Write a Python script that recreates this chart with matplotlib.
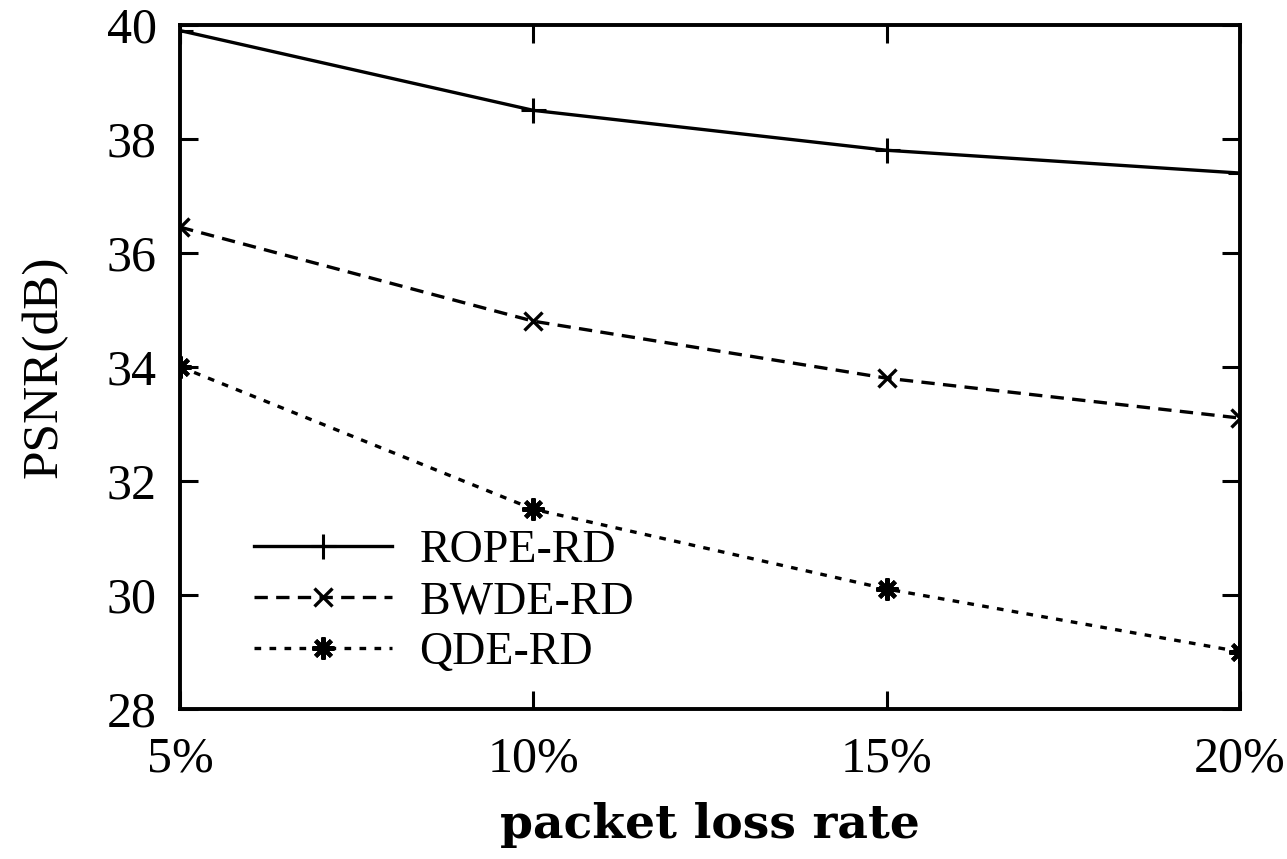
import matplotlib.pyplot as plt

# packet loss rates and PSNR values
loss_rates = [5, 10, 15, 20]
tick_labels = ["5%", "10%", "15%", "20%"]
rope_rd = [39.9, 38.5, 37.8, 37.4]
bwde_rd = [36.45, 34.8, 33.8, 33.1]
qde_rd = [34.0, 31.5, 30.1, 29.0]

plt.rcParams['font.family'] = ['Liberation Serif', 'DejaVu Serif']

fig = plt.figure(figsize=(12.87, 8.59), dpi=100)
ax = fig.add_axes([0.14, 0.175, 0.8235, 0.796])

ax.plot(loss_rates, rope_rd, color='black', linestyle='-', linewidth=2.4,
        marker='+', markersize=18, markeredgewidth=2.2, label='ROPE-RD')
ax.plot(loss_rates, bwde_rd, color='black', linestyle=(0, (4, 2.5)), linewidth=2.4,
        marker='x', markersize=13, markeredgewidth=2.4, label='BWDE-RD')
ax.plot(loss_rates, qde_rd, color='black', linestyle=(0, (2, 2.5)), linewidth=2.4,
        marker=(8, 2, 0), markersize=16, markeredgewidth=3, label='QDE-RD')

ax.set_xlim(5, 20)
ax.set_ylim(28, 40)
ax.set_xticks(loss_rates)
ax.set_xticklabels(tick_labels)
ax.set_yticks(range(28, 41, 2))
ax.tick_params(direction='in', length=13, width=2.2, labelsize=36,
               top=True, right=True)
ax.tick_params(axis='y', pad=17)
ax.tick_params(axis='x', pad=20)
for s in ax.spines.values():
    s.set_linewidth(2.8)

ax.set_xlabel('packet loss rate', fontsize=34, fontweight='bold',
              family='DejaVu Serif', labelpad=14)
ax.set_ylabel('PSNR(dB)', fontsize=37, labelpad=28)

ax.legend(loc='lower left', bbox_to_anchor=(0.07, 0.05), frameon=False,
          borderpad=0, borderaxespad=0,
          fontsize=33, handlelength=3.0, handletextpad=0.6, labelspacing=0.19)

fig.savefig('out.png', dpi=100)
